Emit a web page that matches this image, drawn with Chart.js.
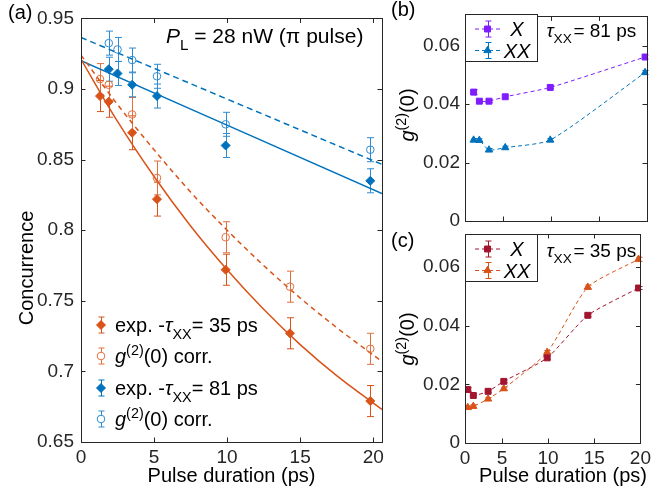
<!DOCTYPE html>
<html>
<head>
<meta charset="utf-8">
<script src="https://cdn.jsdelivr.net/npm/chart.js@4.4.0/dist/chart.umd.min.js"></script>
<style>
  html, body { margin: 0; padding: 0; background: #fff; }
  #wrap { position: relative; width: 655px; height: 493px; }
  #wrap canvas { position: absolute; left: 0; top: 0; }
</style>
</head>
<body>
<div id="wrap">
  <canvas id="chartA" width="655" height="493"></canvas>
  <canvas id="chartB" width="655" height="493"></canvas>
  <canvas id="chartC" width="655" height="493"></canvas>
</div>
<script>
// ---------- data ----------

// (a) concurrence vs pulse duration
var xOrange = [1.3, 1.9, 3.5, 5.2, 9.9, 14.3, 19.8];
var concOrangeExp = [0.895, 0.891, 0.869, 0.822, 0.772, 0.727, 0.679];
var concOrangeCorr = [0.907, 0.903, 0.882, 0.837, 0.795, 0.760, 0.716];
var errOrange = [0.011, 0.011, 0.012, 0.012, 0.011, 0.011, 0.011];

var xBlue = [1.9, 2.5, 3.5, 5.2, 9.9, 19.8];
var concBlueExp = [0.914, 0.911, 0.903, 0.895, 0.860, 0.835];
var concBlueCorr = [0.9325, 0.928, 0.9205, 0.909, 0.875, 0.857];
var errBlue = [0.0085, 0.0085, 0.0085, 0.0085, 0.0085, 0.0085];

// model curves (solid = exp., dashed = g2 corrected)
var xFit = [0, 2.5, 5, 7.5, 10, 12.5, 15, 17.5, 20.6];
var fitOrangeExp = [0.921, 0.877, 0.838, 0.803, 0.772, 0.744, 0.719, 0.697, 0.673];
var fitOrangeCorr = [0.924, 0.889, 0.857, 0.827, 0.800, 0.775, 0.752, 0.731, 0.707];
var xFitBlue = [0, 20.6];
var fitBlueExp = [0.920, 0.826];
var fitBlueCorr = [0.9365, 0.8466];

var xTicksA = [0, 5, 10, 15, 20];
var yTicksA = [0.65, 0.7, 0.75, 0.8, 0.85, 0.9, 0.95];

// (b) g2(0), tau_XX = 81 ps
var xB = [1.9, 2.5, 3.5, 5.2, 9.9, 19.8];
var g2bX = [0.0441, 0.0410, 0.0410, 0.0425, 0.0457, 0.0561];
var g2bXX = [0.0277, 0.0276, 0.0243, 0.0251, 0.0277, 0.0508];
var errbX = [0.0009, 0.0005, 0.0005, 0.0005, 0.0005, 0.0007];
var errbXX = [0.0005, 0.0005, 0.0005, 0.0005, 0.0005, 0.0007];

// (c) g2(0), tau_XX = 35 ps
var xC = [1.3, 1.9, 3.5, 5.2, 9.9, 14.3, 19.8];
var g2cX = [0.0182, 0.0162, 0.0176, 0.0210, 0.0290, 0.0435, 0.0528];
var g2cXX = [0.0121, 0.0125, 0.0150, 0.0185, 0.0309, 0.0531, 0.0626];
var errcX = [0.0006, 0.0005, 0.0005, 0.0005, 0.0006, 0.0005, 0.0005];
var errcXX = [0.0005, 0.0005, 0.0005, 0.0005, 0.0006, 0.0007, 0.0007];

var xTicksBC = [1, 5, 10, 15, 20];
var xTickLabelsBC = ['0', '5', '10', '15', '20'];
var yTicksBC = [0, 0.02, 0.04, 0.06];

// ---------- styling ----------
var FONT = '"Liberation Sans", Arial, Helvetica, sans-serif';
var BLUE = '#0072BD', ORANGE = '#D95319', PURPLE = '#7F1DFF', CRIMSON = '#A2142F', INK = '#262626';
Chart.defaults.font.family = FONT;
Chart.defaults.color = INK;

function pts(xs, ys) {
  return xs.map(function (x, i) { return { x: x, y: ys[i] }; });
}

function fontFor(p, size) {
  var s = (p.sub || p.sup) ? size * 0.72 : size;
  return (p.it ? 'italic ' : '') + s + 'px ' + FONT;
}

// text with sub/superscripts, y is the baseline
function drawRich(ctx, parts, x, y, size, align) {
  var w = 0;
  parts.forEach(function (p) { ctx.font = fontFor(p, size); w += ctx.measureText(p.t).width; });
  var cx = align === 'center' ? x - w / 2 : x;
  parts.forEach(function (p) {
    ctx.font = fontFor(p, size);
    var dy = p.sub ? size * 0.35 : (p.sup ? -size * 0.42 : 0);
    ctx.fillText(p.t, cx, y + dy);
    cx += ctx.measureText(p.t).width;
  });
}

function legendIcon(ctx, o) {
  ctx.save();
  ctx.strokeStyle = o.color;
  ctx.lineWidth = 1;
  if (o.line) {
    ctx.setLineDash([4, 3]);
    ctx.beginPath();
    ctx.moveTo(o.x - o.line, o.y); ctx.lineTo(o.x + o.line, o.y);
    ctx.stroke();
    ctx.setLineDash([]);
  }
  var x = Math.round(o.x) + 0.5;
  ctx.beginPath();
  ctx.moveTo(x, o.y - o.eh); ctx.lineTo(x, o.y + o.eh);
  ctx.moveTo(x - 3, o.y - o.eh); ctx.lineTo(x + 3, o.y - o.eh);
  ctx.moveTo(x - 3, o.y + o.eh); ctx.lineTo(x + 3, o.y + o.eh);
  ctx.stroke();
  ctx.fillStyle = o.fill;
  Chart.helpers.drawPoint(ctx, { pointStyle: o.style, radius: o.r, rotation: 0, borderWidth: 1 }, o.x, o.y);
  ctx.restore();
}

// box round the axes with inward tick marks (both sides)
var boxPlugin = {
  id: 'box',
  afterDatasetsDraw: function (chart) {
    var ctx = chart.ctx, a = chart.chartArea, tl = 4.5;
    var xs = chart.scales.x, ys = chart.scales.y;
    ctx.save();
    ctx.strokeStyle = INK;
    ctx.lineWidth = 1;
    ctx.beginPath();
    xs.ticks.forEach(function (t) {
      var px = Math.round(xs.getPixelForValue(t.value)) + 0.5;
      ctx.moveTo(px, a.bottom); ctx.lineTo(px, a.bottom - tl);
      ctx.moveTo(px, a.top); ctx.lineTo(px, a.top + tl);
    });
    ys.ticks.forEach(function (t) {
      var py = Math.round(ys.getPixelForValue(t.value)) + 0.5;
      ctx.moveTo(a.left, py); ctx.lineTo(a.left + tl, py);
      ctx.moveTo(a.right, py); ctx.lineTo(a.right - tl, py);
    });
    ctx.stroke();
    ctx.strokeRect(Math.round(a.left) + 0.5, Math.round(a.top) + 0.5,
      Math.round(a.right - a.left), Math.round(a.bottom - a.top));
    ctx.restore();
  }
};

// vertical error bars with caps
var errorBarPlugin = {
  id: 'errbars',
  beforeDatasetsDraw: function (chart) {
    var ctx = chart.ctx, xs = chart.scales.x, ys = chart.scales.y;
    ctx.save();
    ctx.lineWidth = 1;
    chart.data.datasets.forEach(function (ds) {
      if (!ds.err) return;
      ctx.strokeStyle = ds.errColor || ds.pointBorderColor;
      var c = ds.cap || 3.5;
      ds.data.forEach(function (p, i) {
        var x = Math.round(xs.getPixelForValue(p.x)) + 0.5;
        var y1 = ys.getPixelForValue(p.y - ds.err[i]);
        var y2 = ys.getPixelForValue(p.y + ds.err[i]);
        ctx.beginPath();
        ctx.moveTo(x, y1); ctx.lineTo(x, y2);
        ctx.moveTo(x - c, y1); ctx.lineTo(x + c, y1);
        ctx.moveTo(x - c, y2); ctx.lineTo(x + c, y2);
        ctx.stroke();
      });
    });
    ctx.restore();
  }
};

function markerSet(xs, ys, errs, color, style, r, fill, errColor) {
  return {
    data: pts(xs, ys), err: errs, errColor: errColor, showLine: false,
    pointStyle: style, pointRadius: r, pointHoverRadius: r,
    pointBackgroundColor: fill, pointBorderColor: color, pointBorderWidth: 1
  };
}

function fitSet(xs, ys, color, dash) {
  return {
    data: pts(xs, ys), showLine: true, pointRadius: 0,
    borderColor: color, borderWidth: 1.5, borderDash: dash,
    tension: 0.4, cubicInterpolationMode: 'monotone'
  };
}

function dashedSet(xs, ys, errs, color, style, r) {
  return {
    data: pts(xs, ys), err: errs, cap: 3, showLine: true,
    borderColor: color, borderWidth: 1, borderDash: [4, 3],
    tension: 0.2,
    pointStyle: style, pointRadius: r, pointHoverRadius: r,
    pointBackgroundColor: color, pointBorderColor: color, pointBorderWidth: 1
  };
}

function fixTicks(arr) {
  return function (scale) { scale.ticks = arr.map(function (v) { return { value: v }; }); };
}

function numLabel(v) { return String(+(+v).toFixed(2)); }

// ---------- panel (a) ----------
var annotA = {
  id: 'annotA',
  afterDraw: function (chart) {
    var ctx = chart.ctx;
    ctx.save();
    ctx.fillStyle = '#000';
    ctx.textBaseline = 'alphabetic';
    drawRich(ctx, [{ t: '(a)' }], 8, 19, 20, 'left');
    drawRich(ctx, [{ t: 'P', it: true }, { t: 'L', sub: true }, { t: ' = 28 nW (\u03c0 pulse)' }], 166, 43, 21, 'left');

    var rows = [
      { y: 325, color: ORANGE, style: 'rectRot', r: 4.5, fill: ORANGE,
        text: [{ t: 'exp. -' }, { t: '\u03c4', it: true }, { t: 'XX', sub: true }, { t: '= 35 ps' }] },
      { y: 356, color: '#E0703F', style: 'circle', r: 3.8, fill: '#fff',
        text: [{ t: 'g', it: true }, { t: '(2)', sup: true }, { t: '(0) corr.' }] },
      { y: 388, color: BLUE, style: 'rectRot', r: 4.5, fill: BLUE,
        text: [{ t: 'exp. -' }, { t: '\u03c4', it: true }, { t: 'XX', sub: true }, { t: '= 81 ps' }] },
      { y: 419, color: '#2F8BD0', style: 'circle', r: 3.8, fill: '#fff',
        text: [{ t: 'g', it: true }, { t: '(2)', sup: true }, { t: '(0) corr.' }] }
    ];
    rows.forEach(function (row) {
      legendIcon(ctx, { x: 101, y: row.y, color: row.color, style: row.style, r: row.r, fill: row.fill, eh: 8 });
      ctx.fillStyle = '#000';
      drawRich(ctx, row.text, 115, row.y + 7, 20, 'left');
    });

    drawRich(ctx, [{ t: 'Pulse duration (ps)' }], 231.5, 481.5, 20, 'center');
    ctx.translate(33, 268);
    ctx.rotate(-Math.PI / 2);
    drawRich(ctx, [{ t: 'Concurrence' }], 0, 0, 20, 'center');
    ctx.restore();
  }
};

var chartA = new Chart(document.getElementById('chartA').getContext('2d'), {
  type: 'scatter',
  data: {
    datasets: [
      markerSet(xOrange, concOrangeExp, errOrange, ORANGE, 'rectRot', 4.5, ORANGE),
      markerSet(xOrange, concOrangeCorr, errOrange, '#E0703F', 'circle', 3.8, 'rgba(255,255,255,0)'),
      markerSet(xBlue, concBlueExp, errBlue, BLUE, 'rectRot', 4.5, BLUE, '#2F8BD0'),
      markerSet(xBlue, concBlueCorr, errBlue, '#2F8BD0', 'circle', 3.8, 'rgba(255,255,255,0)'),
      fitSet(xFit, fitOrangeExp, ORANGE, []),
      fitSet(xFit, fitOrangeCorr, ORANGE, [5, 4]),
      fitSet(xFitBlue, fitBlueExp, BLUE, []),
      fitSet(xFitBlue, fitBlueCorr, BLUE, [6, 4])
    ]
  },
  options: {
    responsive: false,
    animation: false,
    layout: { padding: { left: 0, right: 273, top: 14, bottom: 0 } },
    plugins: { legend: { display: false }, tooltip: { enabled: false } },
    scales: {
      x: {
        type: 'linear', min: 0, max: 20.6,
        grid: { display: false, drawTicks: false }, border: { display: false },
        ticks: { font: { size: 19 }, color: INK, padding: 4, autoSkip: false, maxRotation: 0, callback: numLabel },
        afterBuildTicks: fixTicks(xTicksA),
        afterFit: function (s) { s.height = 51; }
      },
      y: {
        type: 'linear', min: 0.65, max: 0.95,
        grid: { display: false, drawTicks: false }, border: { display: false },
        ticks: { font: { size: 19 }, color: INK, padding: 7, autoSkip: false, callback: numLabel },
        afterBuildTicks: fixTicks(yTicksA),
        afterFit: function (s) { s.width = 81; }
      }
    }
  },
  plugins: [errorBarPlugin, boxPlugin, annotA]
});

// ---------- panels (b) and (c) ----------
function smallLegend(ctx, top, entries) {
  ctx.save();
  ctx.fillStyle = '#fff';
  ctx.fillRect(465.5, top + 0.5, 72, 47);
  ctx.strokeStyle = INK;
  ctx.lineWidth = 1;
  ctx.strokeRect(465.5, top + 0.5, 72, 47);
  entries.forEach(function (e, i) {
    var y = top + 15 + i * 21.5;
    legendIcon(ctx, { x: 487.5, y: y, color: e.color, style: e.style, r: e.r, fill: e.color, eh: 8, line: 12.5 });
    ctx.fillStyle = '#000';
    drawRich(ctx, [{ t: e.label, it: true }], 517, y + 7, 20, 'center');
  });
  ctx.restore();
}

function annotSide(label, labelY, top, tau, tauY, yTitleY, entries, xTitle) {
  return {
    id: 'annotSide',
    afterDraw: function (chart) {
      var ctx = chart.ctx;
      ctx.save();
      ctx.fillStyle = '#000';
      ctx.textBaseline = 'alphabetic';
      drawRich(ctx, [{ t: label }], 391, labelY, 20, 'left');
      smallLegend(ctx, top, entries);
      ctx.fillStyle = '#000';
      drawRich(ctx, [{ t: '\u03c4', it: true }, { t: 'XX', sub: true }, { t: '\u200a= ' + tau + ' ps' }], 546.5, tauY, 19, 'left');
      if (xTitle) drawRich(ctx, [{ t: 'Pulse duration (ps)' }], 563, 481.5, 20, 'center');
      ctx.translate(414, yTitleY);
      ctx.rotate(-Math.PI / 2);
      drawRich(ctx, [{ t: 'g', it: true }, { t: '(2)', sup: true }, { t: '(0)' }], 0, 0, 20, 'center');
      ctx.restore();
    }
  };
}

function sideScales(ymax, showX, xHeight) {
  return {
    x: {
      type: 'linear', min: 1, max: 20,
      grid: { display: false, drawTicks: false }, border: { display: false },
      ticks: {
        display: showX, font: { size: 19 }, color: INK, padding: 4, autoSkip: false, maxRotation: 0,
        callback: function (v, i) { return xTickLabelsBC[i]; }
      },
      afterBuildTicks: fixTicks(xTicksBC),
      afterFit: function (s) { s.height = xHeight; }
    },
    y: {
      type: 'linear', min: 0, max: ymax,
      grid: { display: false, drawTicks: false }, border: { display: false },
      ticks: { font: { size: 19 }, color: INK, padding: 5, autoSkip: false, callback: numLabel },
      afterBuildTicks: fixTicks(yTicksBC),
      afterFit: function (s) { s.width = 65; }
    }
  };
}

var chartB = new Chart(document.getElementById('chartB').getContext('2d'), {
  type: 'scatter',
  data: {
    datasets: [
      dashedSet(xB, g2bX, errbX, PURPLE, 'rect', 4.2),
      dashedSet(xB, g2bXX, errbXX, BLUE, 'triangle', 4.2)
    ]
  },
  options: {
    responsive: false,
    animation: false,
    layout: { padding: { left: 400, right: 8, top: 14, bottom: 262 } },
    plugins: { legend: { display: false }, tooltip: { enabled: false } },
    scales: sideScales(0.07, false, 10)
  },
  plugins: [errorBarPlugin, boxPlugin,
    annotSide('(b)', 16, 14, '81', 36.5, 115,
      [{ label: 'X', color: PURPLE, style: 'rect', r: 4.2 }, { label: 'XX', color: BLUE, style: 'triangle', r: 4.2 }], false)]
});

var chartC = new Chart(document.getElementById('chartC').getContext('2d'), {
  type: 'scatter',
  data: {
    datasets: [
      dashedSet(xC, g2cX, errcX, CRIMSON, 'rect', 4.2),
      dashedSet(xC, g2cXX, errcXX, ORANGE, 'triangle', 4.2)
    ]
  },
  options: {
    responsive: false,
    animation: false,
    layout: { padding: { left: 400, right: 8, top: 234, bottom: 0 } },
    plugins: { legend: { display: false }, tooltip: { enabled: false } },
    scales: sideScales(0.0712, true, 50)
  },
  plugins: [errorBarPlugin, boxPlugin,
    annotSide('(c)', 247, 234, '35', 256.5, 339,
      [{ label: 'X', color: CRIMSON, style: 'rect', r: 4.2 }, { label: 'XX', color: ORANGE, style: 'triangle', r: 4.2 }], true)]
});
</script>
</body>
</html>
